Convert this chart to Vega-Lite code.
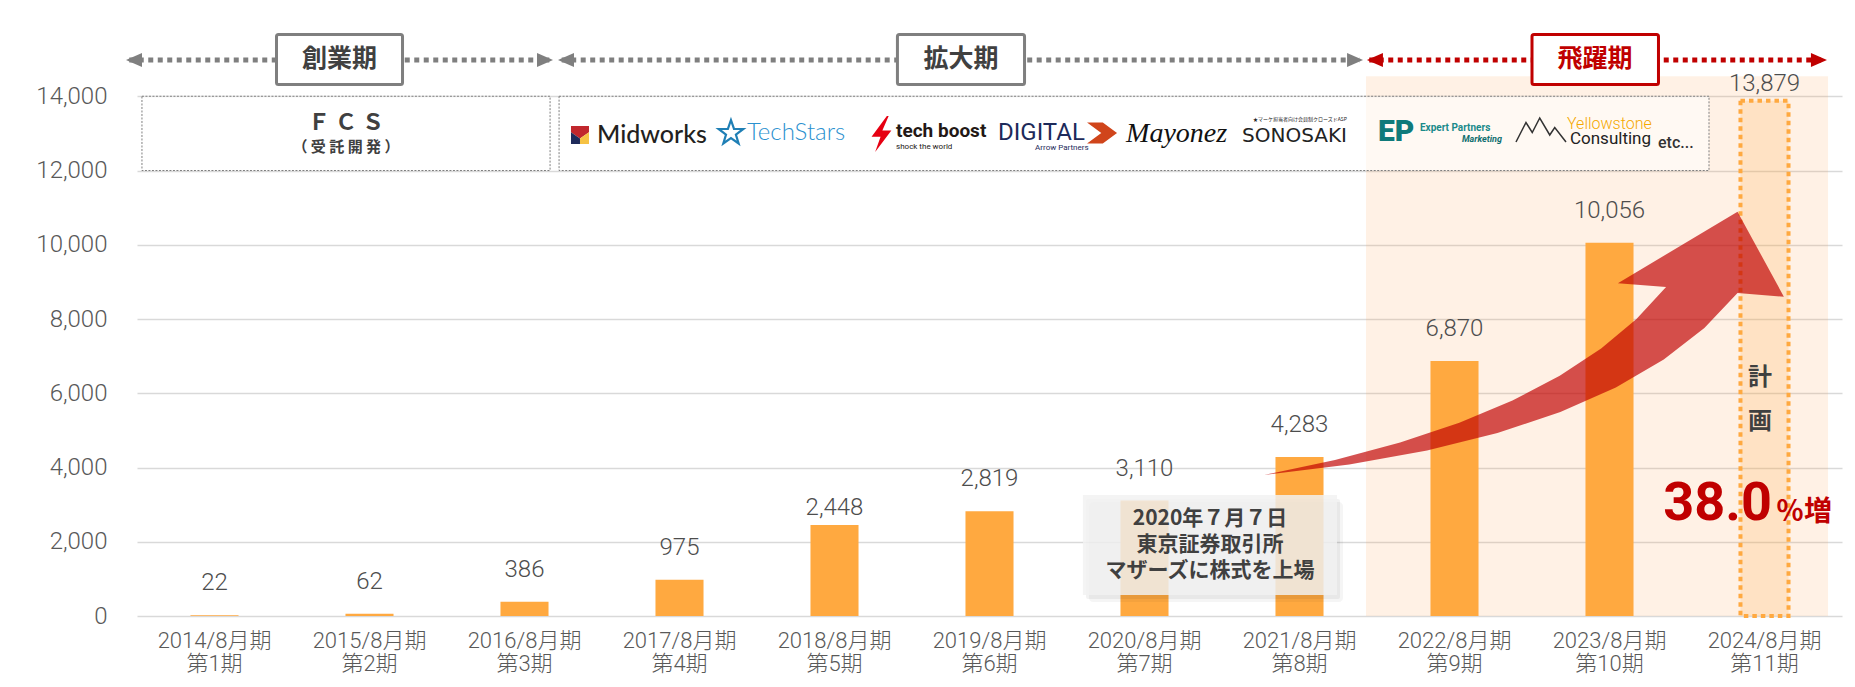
{
  "$schema": "https://vega.github.io/schema/vega-lite/v6.json",
  "width": 1705,
  "height": 594,
  "autosize": {"type": "none"},
  "padding": {"left": 137, "top": 22, "right": 13, "bottom": 71},
  "background": "#ffffff",
  "config": {"view": {"stroke": null}},
  "datasets": {
    "sales": [
      {"label": "2014/8月期|第1期", "sales": 22, "kind": "actual"},
      {"label": "2015/8月期|第2期", "sales": 62, "kind": "actual"},
      {"label": "2016/8月期|第3期", "sales": 386, "kind": "actual"},
      {"label": "2017/8月期|第4期", "sales": 975, "kind": "actual"},
      {"label": "2018/8月期|第5期", "sales": 2448, "kind": "actual"},
      {"label": "2019/8月期|第6期", "sales": 2819, "kind": "actual"},
      {"label": "2020/8月期|第7期", "sales": 3110, "kind": "actual"},
      {"label": "2021/8月期|第8期", "sales": 4283, "kind": "actual"},
      {"label": "2022/8月期|第9期", "sales": 6870, "kind": "actual"},
      {"label": "2023/8月期|第10期", "sales": 10056, "kind": "actual"},
      {"label": "2024/8月期|第11期", "sales": 13879, "kind": "plan"}
    ],
    "arrow": [
      {"i": 1, "x": 7.271, "y": 3798},
      {"i": 2, "x": 7.729, "y": 4202},
      {"i": 3, "x": 8.149, "y": 4671},
      {"i": 4, "x": 8.531, "y": 5204},
      {"i": 5, "x": 8.874, "y": 5805},
      {"i": 6, "x": 9.179, "y": 6470},
      {"i": 7, "x": 9.446, "y": 7203},
      {"i": 8, "x": 9.674, "y": 8000},
      {"i": 9, "x": 9.865, "y": 8862},
      {"i": 10, "x": 9.554, "y": 8962},
      {"i": 11, "x": 10.326, "y": 10891},
      {"i": 12, "x": 10.625, "y": 8601},
      {"i": 13, "x": 10.326, "y": 8700},
      {"i": 14, "x": 10.112, "y": 7758},
      {"i": 15, "x": 9.85, "y": 6909},
      {"i": 16, "x": 9.541, "y": 6155},
      {"i": 17, "x": 9.183, "y": 5495},
      {"i": 18, "x": 8.777, "y": 4929},
      {"i": 19, "x": 8.323, "y": 4458},
      {"i": 20, "x": 7.821, "y": 4081}
    ],
    "phases": [
      {"name": "創業期", "x0": 0.9, "x1": 1.713, "x": 1.306, "y0": 14316, "y1": 15663, "y": 14990, "c": "gray"},
      {"name": "拡大期", "x0": 4.906, "x1": 5.726, "x": 5.316, "y0": 14316, "y1": 15663, "y": 14990, "c": "gray"},
      {"name": "飛躍期", "x0": 9.0, "x1": 9.816, "x": 9.406, "y0": 14316, "y1": 15663, "y": 14990, "c": "red"}
    ],
    "lines": [
      {"x0": -0.05, "x1": 2.66, "y": 14977, "c": "gray"},
      {"x0": 2.74, "x1": 7.89, "y": 14977, "c": "gray"},
      {"x0": 7.95, "x1": 10.88, "y": 14977, "c": "red"}
    ],
    "heads": [
      {"x": -0.071, "y": 14977, "dir": "L", "c": "gray"},
      {"x": 2.684, "y": 14977, "dir": "R", "c": "gray"},
      {"x": 2.716, "y": 14977, "dir": "L", "c": "gray"},
      {"x": 7.91, "y": 14977, "dir": "R", "c": "gray"},
      {"x": 7.935, "y": 14977, "dir": "L", "c": "red"},
      {"x": 10.903, "y": 14977, "dir": "R", "c": "red"}
    ]
  },
  "layer": [
    {
      "data": {"values": [{"x0": 7.929, "x1": 10.91, "y0": 0, "y1": 14540}]},
      "mark": {"type": "rect", "fill": "#FFA050", "opacity": 0.15},
      "encoding": {
        "x": {"field": "x0", "type": "quantitative", "scale": {"domain": [0, 11], "nice": false, "zero": false}, "axis": null},
        "x2": {"field": "x1"},
        "y": {"field": "y0", "type": "quantitative", "scale": {"domain": [0, 16000], "nice": false}, "axis": null},
        "y2": {"field": "y1"}
      }
    },
    {
      "data": {"name": "sales"},
      "encoding": {
        "x": {
          "field": "label", "type": "nominal", "sort": null,
          "scale": {
            "domain": ["2014/8月期|第1期", "2015/8月期|第2期", "2016/8月期|第3期", "2017/8月期|第4期", "2018/8月期|第5期", "2019/8月期|第6期", "2020/8月期|第7期", "2021/8月期|第8期", "2022/8月期|第9期", "2023/8月期|第10期", "2024/8月期|第11期"],
            "paddingInner": 0.69, "paddingOuter": 0.345
          },
          "axis": {
            "labelExpr": "split(datum.label, '|')", "title": null, "ticks": false, "domain": false, "labelAngle": 0,
            "labelFont": "Roboto, Noto Sans CJK JP", "labelFontSize": 22, "labelFontWeight": 300, "labelColor": "#595959",
            "labelLineHeight": 23, "labelPadding": 14, "grid": false
          }
        },
        "y": {
          "field": "sales", "type": "quantitative",
          "scale": {"domain": [0, 16000], "nice": false},
          "axis": {
            "values": [0, 2000, 4000, 6000, 8000, 10000, 12000, 14000], "labelExpr": "format(datum.value, ',')", "title": null, "grid": true,
            "domain": false, "ticks": false, "labelFont": "Roboto", "labelFontSize": 24, "labelFontWeight": 300,
            "labelColor": "#595959", "labelPadding": 30, "gridColor": "#D9D9D9", "gridWidth": 1.5
          }
        }
      },
      "layer": [
        {
          "transform": [{"filter": "datum.kind === 'actual'"}],
          "mark": {"type": "bar", "color": "#FFA940"}
        },
        {
          "transform": [{"filter": "datum.kind === 'plan'"}],
          "mark": {"type": "bar", "fill": "#FFA940", "fillOpacity": 0.2, "stroke": "#FFA940", "strokeWidth": 4, "strokeDash": [4.5, 4]}
        },
        {
          "transform": [{"filter": "datum.kind === 'actual' && datum.sales !== 2448"}],
          "mark": {"type": "text", "baseline": "middle", "dy": -32, "font": "Roboto", "fontSize": 24, "fontWeight": 300, "color": "#4D4D4D"},
          "encoding": {"text": {"field": "sales", "format": ","}}
        },
        {
          "transform": [{"filter": "datum.kind === 'plan' || datum.sales === 2448"}],
          "mark": {"type": "text", "baseline": "middle", "dy": -17, "font": "Roboto", "fontSize": 24, "fontWeight": 300, "color": "#4D4D4D"},
          "encoding": {"text": {"field": "sales", "format": ","}}
        }
      ]
    },
    {
      "encoding": {
        "x": {"field": "x", "type": "quantitative", "scale": {"domain": [0, 11], "nice": false, "zero": false}, "axis": null},
        "y": {"field": "y", "type": "quantitative", "scale": {"domain": [0, 16000], "nice": false}, "axis": null}
      },
      "layer": [
        {
          "data": {"values": [{"x0": 0.032, "x1": 2.665, "y0": 12000, "y1": 14000}, {"x0": 2.723, "x1": 10.142, "y0": 12000, "y1": 14000}]},
          "mark": {"type": "rect", "fill": "#FFFFFF", "fillOpacity": 0.55, "stroke": "#7F7F7F", "strokeWidth": 1, "strokeDash": [2, 1.5]},
          "encoding": {
            "x": {"field": "x0", "type": "quantitative", "scale": {"domain": [0, 11], "nice": false, "zero": false}, "axis": null},
            "x2": {"field": "x1"},
            "y": {"field": "y0", "type": "quantitative", "scale": {"domain": [0, 16000], "nice": false}, "axis": null},
            "y2": {"field": "y1"}
          }
        },
        {
          "data": {"name": "arrow"},
          "mark": {"type": "line", "fill": "#C00000", "fillOpacity": 0.68, "stroke": "#C00000", "strokeOpacity": 0, "strokeWidth": 0, "interpolate": "linear"},
          "encoding": {"order": {"field": "i", "type": "quantitative"}}
        },
        {
          "data": {"values": [{"x0": 6.103, "x1": 7.742, "y0": 566, "y1": 3259}]},
          "encoding": {
            "x": {"field": "x0", "type": "quantitative", "scale": {"domain": [0, 11], "nice": false, "zero": false}, "axis": null},
            "x2": {"field": "x1"},
            "y": {"field": "y0", "type": "quantitative", "scale": {"domain": [0, 16000], "nice": false}, "axis": null},
            "y2": {"field": "y1"}
          },
          "layer": [
            {"mark": {"type": "rect", "fill": "#000000", "opacity": 0.04, "xOffset": 6, "x2Offset": 6, "yOffset": 7, "y2Offset": 7, "cornerRadius": 4}},
            {"mark": {"type": "rect", "fill": "#000000", "opacity": 0.05, "xOffset": 3, "x2Offset": 3, "yOffset": 4, "y2Offset": 4, "cornerRadius": 2}},
            {"mark": {"type": "rect", "fill": "#F2F2F2", "opacity": 0.83}}
          ]
        },
        {
          "data": {"values": [{"x": 6.923, "y": 2613, "t": "2020年７月７日\n東京証券取引所\nマザーズに株式を上場"}]},
          "mark": {"type": "text", "align": "center", "baseline": "middle", "lineBreak": "\n", "lineHeight": 26, "font": "Noto Sans CJK JP", "fontSize": 21, "fontWeight": "bold", "color": "#404040"},
          "encoding": {"text": {"field": "t"}}
        },
        {
          "data": {"name": "lines"},
          "mark": {"type": "rule", "strokeWidth": 5, "strokeDash": [5, 4.5]},
          "encoding": {
            "x": {"field": "x0", "type": "quantitative", "scale": {"domain": [0, 11], "nice": false, "zero": false}, "axis": null},
            "x2": {"field": "x1"},
            "color": {"condition": {"test": "datum.c === 'red'", "value": "#C00000"}, "value": "#7F7F7F"}
          }
        },
        {
          "data": {"name": "heads"},
          "mark": {"type": "point", "filled": true, "size": 256, "opacity": 1, "strokeWidth": 0},
          "encoding": {
            "shape": {"field": "dir", "type": "nominal", "scale": {"domain": ["L", "R"], "range": ["M0,0L2,-0.875L2,0.875Z", "M0,0L-2,-0.875L-2,0.875Z"]}, "legend": null},
            "color": {"condition": {"test": "datum.c === 'red'", "value": "#C00000"}, "value": "#7F7F7F"}
          }
        },
        {
          "data": {"name": "phases"},
          "mark": {"type": "rect", "fill": "#FFFFFF", "strokeWidth": 3, "cornerRadius": 2},
          "encoding": {
            "x": {"field": "x0", "type": "quantitative", "scale": {"domain": [0, 11], "nice": false, "zero": false}, "axis": null},
            "x2": {"field": "x1"},
            "y": {"field": "y0", "type": "quantitative", "scale": {"domain": [0, 16000], "nice": false}, "axis": null},
            "y2": {"field": "y1"},
            "stroke": {"condition": {"test": "datum.c === 'red'", "value": "#C00000"}, "value": "#7F7F7F"}
          }
        },
        {
          "data": {"name": "phases"},
          "mark": {"type": "text", "align": "center", "baseline": "middle", "font": "Noto Sans CJK JP", "fontSize": 25, "fontWeight": "bold"},
          "encoding": {
            "text": {"field": "name"},
            "color": {"condition": {"test": "datum.c === 'red'", "value": "#C00000"}, "value": "#404040"}
          }
        },
        {
          "data": {"values": [{"x": 1.348, "y": 13279, "t": "Ｆ Ｃ Ｓ"}]},
          "mark": {"type": "text", "align": "center", "baseline": "middle", "font": "Noto Sans CJK JP", "fontSize": 22, "fontWeight": "bold", "color": "#404040"},
          "encoding": {"text": {"field": "t"}}
        },
        {
          "data": {"values": [{"x": 1.348, "y": 12633, "t": "（ 受  託  開  発 ）"}]},
          "mark": {"type": "text", "align": "center", "baseline": "middle", "font": "Noto Sans CJK JP", "fontSize": 15, "fontWeight": "bold", "color": "#404040"},
          "encoding": {"text": {"field": "t"}}
        },
        {
          "data": {"values": [{"x": 2.858, "y": 12956}]},
          "mark": {"type": "point", "shape": "M-1,-1L1,-1L1,-0.3L0,0.4L-1,-0.3Z", "size": 324, "filled": true, "fill": "#C1272D", "opacity": 1, "strokeWidth": 0}
        },
        {
          "data": {"values": [{"x": 2.858, "y": 12956}]},
          "mark": {"type": "point", "shape": "M-1,-0.3L0,0.4L0,1L-1,1Z", "size": 324, "filled": true, "fill": "#1F2B5B", "opacity": 1, "strokeWidth": 0}
        },
        {
          "data": {"values": [{"x": 2.858, "y": 12956}]},
          "mark": {"type": "point", "shape": "M1,-0.3L0,0.4L0,1L1,1Z", "size": 324, "filled": true, "fill": "#F6C244", "opacity": 1, "strokeWidth": 0}
        },
        {
          "data": {"values": [{"x": 2.968, "y": 12956, "t": "Midworks"}]},
          "mark": {"type": "text", "align": "left", "baseline": "middle", "font": "Lato", "fontSize": 25, "fontWeight": 500, "color": "#231F20"},
          "encoding": {"text": {"field": "t"}}
        },
        {
          "data": {"values": [{"x": 3.832, "y": 13010}]},
          "mark": {"type": "point", "shape": "M0,-1L0.235,-0.324L0.951,-0.309L0.38,0.124L0.588,0.809L0,0.4L-0.588,0.809L-0.38,0.124L-0.951,-0.309L-0.235,-0.324Z", "size": 676, "filled": false, "stroke": "#1F7FB5", "strokeWidth": 2.2, "opacity": 1}
        },
        {
          "data": {"values": [{"x": 3.935, "y": 13010, "t": "TechStars"}]},
          "mark": {"type": "text", "align": "left", "baseline": "middle", "font": "Lato", "fontSize": 24, "fontWeight": 300, "color": "#2B91CF"},
          "encoding": {"text": {"field": "t"}}
        },
        {
          "data": {"values": [{"x": 4.803, "y": 12983}]},
          "mark": {"type": "point", "shape": "M0.3,-1L-0.55,0.15L-0.05,0.15L-0.35,1L0.55,-0.2L0.05,-0.2L0.4,-1Z", "size": 1296, "filled": true, "fill": "#E60012", "opacity": 1, "strokeWidth": 0}
        },
        {
          "data": {"values": [{"x": 4.897, "y": 13064, "t": "tech boost"}]},
          "mark": {"type": "text", "align": "left", "baseline": "middle", "font": "Roboto", "fontSize": 19, "fontWeight": "bold", "color": "#231815"},
          "encoding": {"text": {"field": "t"}}
        },
        {
          "data": {"values": [{"x": 4.897, "y": 12633, "t": "shock the world"}]},
          "mark": {"type": "text", "align": "left", "baseline": "middle", "font": "Roboto", "fontSize": 8, "color": "#231815"},
          "encoding": {"text": {"field": "t"}}
        },
        {
          "data": {"values": [{"x": 5.555, "y": 13010, "t": "DIGITAL"}]},
          "mark": {"type": "text", "align": "left", "baseline": "middle", "font": "Roboto", "fontSize": 24, "color": "#1D2A5A"},
          "encoding": {"text": {"field": "t"}}
        },
        {
          "data": {"values": [{"x": 6.226, "y": 13010}]},
          "mark": {"type": "point", "shape": "M-1,-0.7L0.05,-0.7L1,0L0.05,0.7L-1,0.7L-0.05,0Z", "size": 900, "filled": true, "fill": "#D0451B", "opacity": 1, "strokeWidth": 0}
        },
        {
          "data": {"values": [{"x": 5.794, "y": 12606, "t": "Arrow Partners"}]},
          "mark": {"type": "text", "align": "left", "baseline": "middle", "font": "Roboto", "fontSize": 8, "color": "#1D2A5A"},
          "encoding": {"text": {"field": "t"}}
        },
        {
          "data": {"values": [{"x": 6.381, "y": 12983, "t": "Mayonez"}]},
          "mark": {"type": "text", "align": "left", "baseline": "middle", "font": "Liberation Serif", "fontSize": 28, "fontStyle": "italic", "color": "#111111"},
          "encoding": {"text": {"field": "t"}}
        },
        {
          "data": {"values": [{"x": 7.129, "y": 12929, "t": "SONOSAKI"}]},
          "mark": {"type": "text", "align": "left", "baseline": "middle", "font": "DejaVu Sans", "fontSize": 20, "color": "#222222"},
          "encoding": {"text": {"field": "t"}}
        },
        {
          "data": {"values": [{"x": 7.503, "y": 13387, "t": "★マーケ担当者向け会員制クローズドASP"}]},
          "mark": {"type": "text", "align": "center", "baseline": "middle", "font": "Noto Sans CJK JP", "fontSize": 5, "color": "#222222"},
          "encoding": {"text": {"field": "t"}}
        },
        {
          "data": {"values": [{"x": 8.006, "y": 13037, "t": "EP"}]},
          "mark": {"type": "text", "align": "left", "baseline": "middle", "font": "Roboto", "fontSize": 30, "fontWeight": 900, "color": "#0F7A7A"},
          "encoding": {"text": {"field": "t"}}
        },
        {
          "data": {"values": [{"x": 8.277, "y": 13145, "t": "Expert Partners"}]},
          "mark": {"type": "text", "align": "left", "baseline": "middle", "font": "Roboto", "fontSize": 10, "fontWeight": "bold", "color": "#1A8A8A"},
          "encoding": {"text": {"field": "t"}}
        },
        {
          "data": {"values": [{"x": 8.548, "y": 12848, "t": "Marketing"}]},
          "mark": {"type": "text", "align": "left", "baseline": "middle", "font": "Roboto", "fontSize": 9, "fontWeight": "bold", "fontStyle": "italic", "color": "#0F6F6F"},
          "encoding": {"text": {"field": "t"}}
        },
        {
          "data": {"values": [{"x": 9.058, "y": 13091}]},
          "mark": {"type": "point", "shape": "M-1,0.48L-0.6,-0.3L-0.35,0.1L-0.05,-0.48L0.35,0.2L0.55,-0.1L1,0.48", "size": 2500, "filled": false, "stroke": "#333333", "strokeWidth": 1.5, "opacity": 1}
        },
        {
          "data": {"values": [{"x": 9.226, "y": 13253, "t": "Yellowstone"}]},
          "mark": {"type": "text", "align": "left", "baseline": "middle", "font": "Roboto", "fontSize": 16, "fontWeight": 300, "color": "#F5A800"},
          "encoding": {"text": {"field": "t"}}
        },
        {
          "data": {"values": [{"x": 9.245, "y": 12848, "t": "Consulting"}]},
          "mark": {"type": "text", "align": "left", "baseline": "middle", "font": "Roboto", "fontSize": 17, "color": "#222222"},
          "encoding": {"text": {"field": "t"}}
        },
        {
          "data": {"values": [{"x": 9.813, "y": 12741, "t": "etc..."}]},
          "mark": {"type": "text", "align": "left", "baseline": "middle", "font": "Roboto", "fontSize": 16, "fontWeight": 500, "color": "#333333"},
          "encoding": {"text": {"field": "t"}}
        },
        {
          "data": {"values": [{"x": 10.471, "y": 6411, "t": "計\n画"}]},
          "mark": {"type": "text", "align": "center", "baseline": "middle", "lineBreak": "\n", "lineHeight": 44, "font": "Noto Sans CJK JP", "fontSize": 24, "fontWeight": "bold", "color": "#404040"},
          "encoding": {"text": {"field": "t"}}
        },
        {
          "data": {"values": [{"x": 10.548, "y": 2586, "t": "38.0"}]},
          "mark": {"type": "text", "align": "right", "baseline": "alphabetic", "font": "Roboto", "fontSize": 54, "fontWeight": "bold", "color": "#C00000"},
          "encoding": {"text": {"field": "t"}}
        },
        {
          "data": {"values": [{"x": 10.574, "y": 2559, "t": "％増"}]},
          "mark": {"type": "text", "align": "left", "baseline": "alphabetic", "font": "Noto Sans CJK JP", "fontSize": 28, "fontWeight": "bold", "color": "#C00000"},
          "encoding": {"text": {"field": "t"}}
        }
      ]
    }
  ],
  "resolve": {"scale": {"x": "independent"}, "axis": {"x": "independent", "y": "independent"}}
}
